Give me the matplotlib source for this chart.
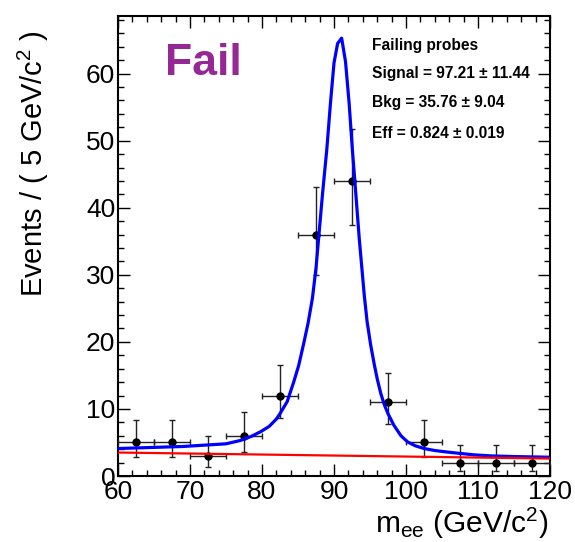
import numpy as np
import matplotlib
matplotlib.use("Agg")
import matplotlib.pyplot as plt
import matplotlib.ticker as ticker

plt.rcParams['font.family'] = ['Liberation Sans', 'DejaVu Sans']
plt.rcParams['mathtext.fontset'] = 'custom'
plt.rcParams['mathtext.rm'] = 'Liberation Sans'
plt.rcParams['mathtext.it'] = 'Liberation Sans'

# binned data (5 GeV bins)
bin_centers = [62.5, 67.5, 72.5, 77.5, 82.5, 87.5, 92.5, 97.5, 102.5, 107.5, 112.5, 117.5]
counts = [5, 5, 3, 6, 12, 36, 44, 11, 5, 2, 2, 2]
err_low = [2.16, 2.16, 1.63, 2.38, 3.41, 5.97, 6.61, 3.26, 2.16, 1.29, 1.29, 1.29]
err_high = [3.38, 3.38, 2.92, 3.58, 4.55, 7.05, 7.68, 4.41, 3.38, 2.64, 2.64, 2.64]
bin_half = [2.5] * 12

# fitted total curve (signal + background)
curve_x = [60, 63, 66, 69, 72, 75, 77, 78.5, 79.8, 81, 82, 82.5, 83.5, 84.4, 85.1, 85.8,
           86.4, 87.0, 87.5, 87.9, 88.4, 89.0, 89.5, 90.0, 90.5, 91.06, 91.6, 92.1, 92.55,
           92.9, 93.5, 94.2, 94.6, 95.1, 95.6, 96.0, 96.5, 97.0, 97.5, 98.3, 99.3, 100.2,
           101.3, 102.5, 104, 105.5, 107.2, 109.5, 111.8, 115, 117.5, 120]
curve_y = [4.1, 4.2, 4.3, 4.4, 4.6, 4.8, 5.3, 5.9, 6.6, 7.4, 8.5, 9.3, 11.1, 14.0, 16.5, 19.8,
           22.8, 26.5, 31.0, 35.9, 42.0, 48.7, 55.5, 61.6, 64.5, 65.3, 61.8, 55.6, 48.7,
           43.9, 35.5, 27.0, 23.0, 19.5, 16.6, 14.5, 12.3, 10.6, 9.3, 7.6, 6.0, 5.1,
           4.5, 4.1, 3.8, 3.6, 3.4, 3.15, 3.0, 2.9, 2.85, 2.8]

# background component
bkg_x = [60, 120]
bkg_y = [3.5, 2.6]

fig = plt.figure(figsize=(5.75, 5.42), dpi=100)
ax = fig.add_axes([118/575, 66/542, (550-118)/575, (476-16)/542])

ax.errorbar(bin_centers, counts, xerr=bin_half, yerr=[err_low, err_high],
            fmt='o', color='black', ecolor='#222222', markersize=5,
            elinewidth=1.0, capsize=2, capthick=1.0, zorder=3)
ax.plot(curve_x, curve_y, color='#0000ff', linewidth=2.3, zorder=4)
ax.plot(bkg_x, bkg_y, color='#ff0000', linewidth=1.6, zorder=4)

ax.set_xlim(60, 120)
ax.set_ylim(0, 68.6)

ax.xaxis.set_major_locator(ticker.MultipleLocator(10))
ax.xaxis.set_minor_locator(ticker.MultipleLocator(2))
ax.yaxis.set_major_locator(ticker.MultipleLocator(10))
ax.yaxis.set_minor_locator(ticker.MultipleLocator(2))
ax.tick_params(which='both', direction='in', top=True, right=True, width=1.0)
ax.tick_params(which='major', length=8.5, labelsize=19)
ax.tick_params(which='minor', length=4.3)
ax.tick_params(axis='y', pad=2)
ax.tick_params(axis='x', pad=3)
for sp in ax.spines.values():
    sp.set_linewidth(1.5)

fig.text(33/575, 1 - 164/542, r'Events / ( 5 GeV/c$^{2}$ )', rotation=90,
         ha='center', va='center', fontsize=21)
fig.text(548/575, 1 - 533/542, r'm$_{\rm ee}$ (GeV/c$^{2}$)', ha='right',
         va='baseline', fontsize=21.5)

fig.text(165/575, 1 - 75/542, 'Fail', color='#962896', fontsize=32,
         fontweight='bold', ha='left', va='baseline')

info = ['Failing probes', 'Signal = 97.21 ± 11.44', 'Bkg = 35.76 ± 9.04',
        'Eff = 0.824 ± 0.019']
info_y = [45.7, 73, 102, 133]
for s, yy in zip(info, info_y):
    fig.text(372/575, 1 - yy/542, s, fontsize=11.2, fontweight='bold',
             ha='left', va='center')

fig.savefig('out.png', dpi=100)
